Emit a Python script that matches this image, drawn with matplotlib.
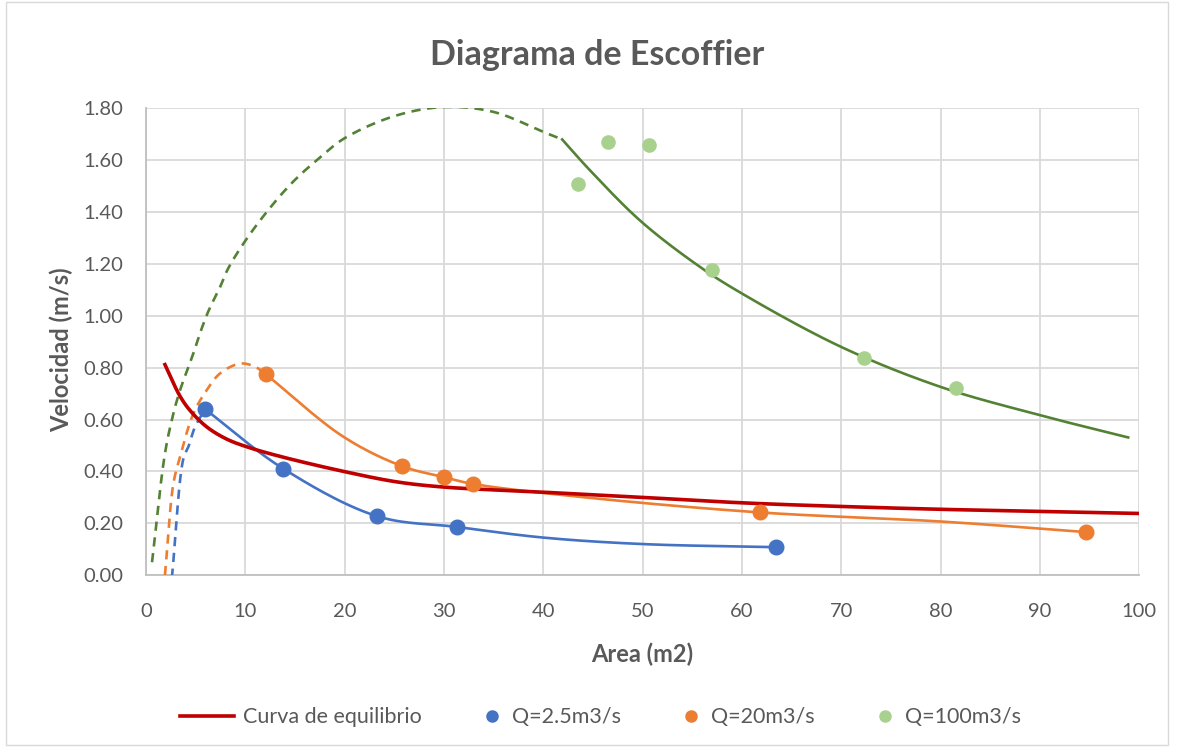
import numpy as np
import matplotlib.pyplot as plt
from matplotlib.lines import Line2D
from matplotlib.patches import Rectangle
from matplotlib.legend_handler import HandlerLine2D

# curva de equilibrio
eq_area = [1.9, 3.42, 4.43, 6.1, 8.1, 10.3, 13.8, 19.9, 25.2, 29.9, 40, 50, 60, 70, 80, 90, 100]
eq_vel = [0.812, 0.69, 0.635, 0.572, 0.525, 0.493, 0.455, 0.40, 0.36, 0.34, 0.32, 0.30,
          0.279, 0.265, 0.254, 0.246, 0.238]

# Q = 2.5 m3/s
q1_area = [5.94, 13.8, 23.3, 31.3, 63.4]
q1_vel = [0.64, 0.411, 0.227, 0.186, 0.108]
q1_curve_area = [5.94, 13.8, 23.3, 31.3, 40, 50, 63.4]
q1_curve_vel = [0.64, 0.411, 0.227, 0.186, 0.145, 0.12, 0.108]
q1_tail_area = [2.6, 3.76, 4.26, 4.93, 5.94]
q1_tail_vel = [-0.01, 0.45, 0.495, 0.572, 0.64]

# Q = 20 m3/s
q2_area = [12.05, 25.8, 30.0, 32.9, 61.8, 94.7]
q2_vel = [0.775, 0.42, 0.378, 0.352, 0.242, 0.166]
q2_curve_area = [12.05, 19.9, 25.8, 30.0, 32.9, 43.7, 61.8, 80, 94.7]
q2_curve_vel = [0.775, 0.533, 0.42, 0.378, 0.352, 0.302, 0.242, 0.207, 0.166]
q2_tail_area = [1.9, 2.75, 3.42, 4.76, 6.1, 7.45, 9.5, 11.0, 12.05]
q2_tail_vel = [0.0, 0.353, 0.456, 0.623, 0.713, 0.778, 0.816, 0.803, 0.775]

# Q = 100 m3/s
q3_area = [43.5, 46.5, 50.6, 57.0, 72.3, 81.6]
q3_vel = [1.508, 1.670, 1.658, 1.176, 0.839, 0.720]
q3_curve_area = [41.9, 44.7, 49.9, 55.8, 60, 70, 80, 90, 98.9]
q3_curve_vel = [1.68, 1.561, 1.362, 1.188, 1.086, 0.880, 0.726, 0.617, 0.531]
q3_tail_area = [0.6, 1.9, 2.75, 3.42, 4.76, 5.6, 6.3, 7.45, 8.3, 10.8, 14.5, 17.5, 20, 25, 30, 35, 40, 41.9]
q3_tail_vel = [0.05, 0.469, 0.623, 0.713, 0.855, 0.951, 1.02, 1.111, 1.185, 1.333, 1.505, 1.61, 1.685,
               1.77, 1.805, 1.786, 1.709, 1.68]

x_ticks = list(range(0, 101, 10))
y_ticks = [0.0, 0.2, 0.4, 0.6, 0.8, 1.0, 1.2, 1.4, 1.6, 1.8]


def suave(xs, ys, n=40):
    # linea suavizada (Catmull-Rom centripeta, escalada como en pantalla)
    sx, sy = 9.93, 259.4
    P = np.column_stack([np.asarray(xs, float) * sx, np.asarray(ys, float) * sy])
    P = np.vstack([2 * P[0] - P[1], P, 2 * P[-1] - P[-2]])
    out = []
    for i in range(1, len(P) - 2):
        p0, p1, p2, p3 = P[i - 1], P[i], P[i + 1], P[i + 2]
        t0 = 0.0
        t1 = t0 + np.linalg.norm(p1 - p0) ** 0.5
        t2 = t1 + np.linalg.norm(p2 - p1) ** 0.5
        t3 = t2 + np.linalg.norm(p3 - p2) ** 0.5
        t = np.linspace(t1, t2, n)[:, None]
        a1 = (t1 - t) / (t1 - t0) * p0 + (t - t0) / (t1 - t0) * p1
        a2 = (t2 - t) / (t2 - t1) * p1 + (t - t1) / (t2 - t1) * p2
        a3 = (t3 - t) / (t3 - t2) * p2 + (t - t2) / (t3 - t2) * p3
        b1 = (t2 - t) / (t2 - t0) * a1 + (t - t0) / (t2 - t0) * a2
        b2 = (t3 - t) / (t3 - t1) * a2 + (t - t1) / (t3 - t1) * a3
        c = (t2 - t) / (t2 - t1) * b1 + (t - t1) / (t2 - t1) * b2
        out.append(c if i == 1 else c[1:])
    out = np.vstack(out)
    return out[:, 0] / sx, out[:, 1] / sy


class LineaLarga(HandlerLine2D):
    # linea de leyenda mas larga hacia la izquierda
    def create_artists(self, legend, orig_handle, xdescent, ydescent, width, height, fontsize, trans):
        y = (height - ydescent) / 2.0
        linea = Line2D([-xdescent - width, -xdescent + width - 2], [y, y])
        self.update_prop(linea, orig_handle, legend)
        linea.set_transform(trans)
        return [linea]


plt.rcParams['font.family'] = ['Lato', 'DejaVu Sans']
gris = '#595959'
azul = '#4472C4'
naranja = '#ED7D31'
verde = '#548235'
verde_claro = '#A9D18E'
rojo = '#C00000'

fig = plt.figure(figsize=(11.78, 7.47), dpi=100)
ax = fig.add_axes([0.124, 0.230, 0.843, 0.625])

fig.patches.append(Rectangle((6 / 1178, 2 / 747), 1162 / 1178, 743 / 747, transform=fig.transFigure,
                             fill=False, edgecolor='#D9D9D9', linewidth=1.0))

dash = (0, (3.5, 2.5))

# tramos punteados
ax.plot(*suave(q3_tail_area, q3_tail_vel), color=verde, lw=1.9, linestyle=dash, zorder=3)
ax.plot(*suave(q2_tail_area, q2_tail_vel), color=naranja, lw=1.9, linestyle=dash, zorder=3)
ax.plot(*suave(q1_tail_area, q1_tail_vel), color=azul, lw=1.9, linestyle=dash, zorder=3)

# curvas continuas
ax.plot(*suave(q3_curve_area, q3_curve_vel), color=verde, lw=1.9, zorder=3)
ax.plot(*suave(q2_curve_area, q2_curve_vel), color=naranja, lw=1.9, zorder=3)
ax.plot(*suave(q1_curve_area, q1_curve_vel), color=azul, lw=1.9, zorder=3)
ax.plot(*suave(eq_area, eq_vel), color=rojo, lw=2.6, zorder=4)

# puntos
ax.plot(q1_area, q1_vel, 'o', color=azul, ms=10.5, zorder=5)
ax.plot(q2_area, q2_vel, 'o', color=naranja, ms=10.5, zorder=5)
ax.plot(q3_area, q3_vel, 'o', color=verde_claro, ms=9.5, zorder=5)

ax.set_xlim(0, 100)
ax.set_ylim(0, 1.8)
ax.set_xticks(x_ticks)
ax.set_yticks(y_ticks)
ax.set_yticklabels([f'{v:.2f}' for v in y_ticks])
ax.tick_params(length=0, labelsize=14.5, labelcolor=gris)
ax.tick_params(axis='x', pad=20)
ax.tick_params(axis='y', pad=16.5)
ax.grid(True, color='#D9D9D9', linewidth=1.3)
ax.set_axisbelow(True)
for s in ['top', 'right']:
    ax.spines[s].set_visible(False)
for s in ['left', 'bottom']:
    ax.spines[s].set_color('#BFBFBF')
    ax.spines[s].set_linewidth(1.3)

ax.set_xlabel('Area (m2)', fontsize=17, fontweight='bold', color=gris)
ax.set_ylabel('Velocidad (m/s)', fontsize=17, fontweight='bold', color=gris)
ax.xaxis.set_label_coords(0.4995, -0.145)
ax.yaxis.set_label_coords(-0.073, 0.484)
fig.text(0.507, 0.926, 'Diagrama de Escoffier', ha='center', va='center',
         fontsize=24.5, fontweight='bold', color=gris)

linea_eq = Line2D([], [], color=rojo, lw=2.6)
handles = [
    linea_eq,
    Line2D([], [], marker='o', color=azul, ls='none', ms=8),
    Line2D([], [], marker='o', color=naranja, ls='none', ms=8),
    Line2D([], [], marker='o', color=verde_claro, ls='none', ms=8),
]
labels = ['Curva de equilibrio', 'Q=2.5m3/s', 'Q=20m3/s', 'Q=100m3/s']
leg = fig.legend(handles, labels, loc='center', bbox_to_anchor=(0.522, 0.04), ncol=4,
                 frameon=False, fontsize=15.5, handlelength=1.3, handletextpad=0.3,
                 columnspacing=2.6, handler_map={linea_eq: LineaLarga()})
for t in leg.get_texts():
    t.set_color(gris)

fig.savefig('out.png', dpi=100)
